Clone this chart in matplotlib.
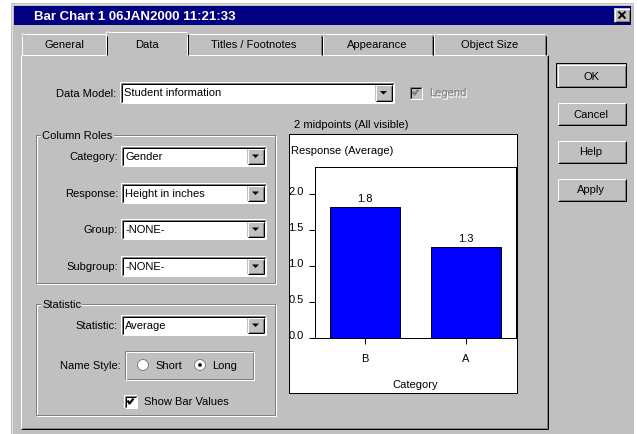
import matplotlib
matplotlib.use('Agg')
import matplotlib.pyplot as plt
from matplotlib.patches import Rectangle, Circle, Polygon

plt.rcParams['font.family'] = ['Liberation Sans', 'DejaVu Sans']

# chart data
categories = ['B', 'A']
values = [1.82, 1.26]
y_ticks = [0.0, 0.5, 1.0, 1.5, 2.0]
y_max = 2.375

# dialog texts
window_title = 'Bar Chart 1 06JAN2000 11:21:33'
tab_names = ['General', 'Data', 'Titles / Footnotes', 'Appearance', 'Object Size']
tab_edges = [21, 107, 186, 322, 433, 546]
button_names = ['OK', 'Cancel', 'Help', 'Apply']
button_tops = [65, 103, 141, 179]
role_labels = ['Category:', 'Response:', 'Group:', 'Subgroup:']
role_values = ['Gender', 'Height in inches', '-NONE-', '-NONE-']
role_rows = [157, 194, 230, 267]

GRAY = '#c0c0c0'
DARK = '#808080'
PX = 0.72  # one pixel in points at 100 dpi
FS = 8

fig = plt.figure(figsize=(6.37, 4.35), dpi=100)
fig.patch.set_facecolor('white')
bg = fig.add_axes([0, 0, 1, 1])
bg.set_xlim(0, 637)
bg.set_ylim(435, 0)
bg.axis('off')


def box(x, y, w, h, fc, ec='none', z=1):
    bg.add_patch(Rectangle((x, y), w, h, facecolor=fc, edgecolor=ec, linewidth=PX, zorder=z))


def line(xs, ys, color, z=3, lw=PX):
    bg.plot([v + 0.5 for v in xs], [v + 0.5 for v in ys], color=color, lw=lw,
            solid_capstyle='butt', zorder=z)


def label(x, y, s, ha='left', color='black', **kw):
    bg.text(x, y, s, fontsize=FS, ha=ha, va='center', color=color, zorder=5, **kw)


def sunken(x, y, w, h, fill='white'):
    box(x, y, w, h, fill)
    line([x, x + w - 1], [y, y], DARK)
    line([x, x], [y, y + h - 1], DARK)
    line([x + 1, x + w - 2], [y + 1, y + 1], 'black')
    line([x + 1, x + 1], [y + 1, y + h - 2], 'black')
    line([x, x + w - 1], [y + h - 1, y + h - 1], 'white')
    line([x + w - 1, x + w - 1], [y, y + h - 1], 'white')


def raised(x, y, w, h, default=False):
    box(x, y, w, h, GRAY)
    line([x, x + w - 1], [y, y], 'white')
    line([x, x], [y, y + h - 1], 'white')
    line([x, x + w - 1], [y + h - 1, y + h - 1], 'black')
    line([x + w - 1, x + w - 1], [y, y + h - 1], 'black')
    line([x + 1, x + w - 2], [y + h - 2, y + h - 2], DARK)
    line([x + w - 2, x + w - 2], [y + 1, y + h - 2], DARK)
    if default:
        box(x - 1, y - 1, w + 1, h + 1, 'none', 'black', z=4)


def combo(x, y, w, h, text):
    sunken(x, y, w, h)
    label(x + 4, y + h / 2, text)
    bx = x + w - 19
    raised(bx, y + 2, 17, h - 4)
    cx, cy = bx + 8.5, y + h / 2
    bg.add_patch(Polygon([(cx - 3.5, cy - 1.5), (cx + 3.5, cy - 1.5), (cx, cy + 2)],
                         closed=True, facecolor='black', edgecolor='none', zorder=4))


def groupbox(x, y, w, h, text):
    box(x + 1, y + 1, w, h, 'none', 'white', z=2)
    box(x, y, w, h, 'none', DARK, z=2)
    bg.text(x + 6, y, text, fontsize=FS, ha='left', va='center', zorder=5,
            bbox=dict(facecolor=GRAY, edgecolor='none', pad=1))


def checkbox(x, y, fill, mark):
    sunken(x, y, 13, 13, fill)
    line([x + 3, x + 5, x + 9], [y + 5, y + 8, y + 3], mark, z=4, lw=1.6)


# dialog body and title bar
box(11, 4, 623, 431, GRAY)
line([11, 633], [4, 4], '#dfdfdf')
line([11, 11], [4, 434], '#dfdfdf')
box(14, 7, 617, 19, '#000080')
bg.text(34, 17, window_title, fontsize=9.5, fontweight='bold', color='white',
        ha='left', va='center', zorder=5)
raised(614, 9, 16, 14)
line([618, 625], [12, 19], 'black', z=5, lw=1.4)
line([618, 625], [19, 12], 'black', z=5, lw=1.4)

# tab panel
line([20, 547], [55, 55], 'white')
line([20, 20], [55, 429], 'white')
line([547, 547], [55, 429], 'black')
line([546, 546], [56, 428], DARK)
line([20, 547], [429, 429], 'black')
line([21, 546], [428, 428], DARK)

for i, name in enumerate(tab_names):
    x0, x1 = tab_edges[i], tab_edges[i + 1]
    top = 34
    if name == 'Data':
        x0, x1, top = x0 - 2, x1 + 2, 32
        box(x0 + 1, top + 1, x1 - x0 - 2, 56 - top, GRAY, z=4)
    line([x0 + 2, x1 - 2], [top, top], 'white', z=5)
    line([x0, x0], [top + 2, 55], 'white', z=5)
    line([x0, x0 + 2], [top + 2, top], 'white', z=5)
    line([x1 - 1, x1 - 1], [top + 2, 55], 'black', z=5)
    line([x1 - 2, x1 - 2], [top + 1, 55], DARK, z=5)
    bg.text((x0 + x1) / 2, 45, name, fontsize=FS, ha='center', va='center', zorder=6)

# buttons
for name, top in zip(button_names, button_tops):
    raised(557, top, 69, 23, default=(name == 'OK'))
    bg.text(591, top + 11.5, name, fontsize=FS, ha='center', va='center', zorder=5)

# data model row
label(116, 94, 'Data Model:', ha='right')
combo(120, 83, 274, 21, 'Student information')
checkbox(409, 87, GRAY, DARK)
label(430, 94.5, 'Legend', color='white')
label(429, 93.5, 'Legend', color=DARK)

# column roles
groupbox(36, 136, 239, 148, 'Column Roles')
for lab, val, yc in zip(role_labels, role_values, role_rows):
    label(118, yc, lab, ha='right')
    combo(121, yc - 10, 145, 20, val)

# statistic
groupbox(36, 305, 239, 111, 'Statistic')
label(118, 326, 'Statistic:', ha='right')
combo(121, 316, 145, 20, 'Average')
label(121, 366, 'Name Style:', ha='right')
box(125, 352, 128, 28, 'none', DARK, z=2)
box(126, 353, 128, 28, 'none', 'white', z=2)
for cx, txt, on in [(143, 'Short', False), (200, 'Long', True)]:
    bg.add_patch(Circle((cx, 366), 5.5, facecolor='white', edgecolor=DARK, lw=PX, zorder=4))
    if on:
        bg.add_patch(Circle((cx, 366), 1.8, facecolor='black', edgecolor='none', zorder=5))
    label(cx + 12, 366, txt)
checkbox(124, 396, 'white', 'black')
label(144, 402.5, 'Show Bar Values')

# chart preview
label(294, 125, '2 midpoints (All visible)')
box(289, 135, 228, 259, 'white', 'black', z=2)
label(291, 151, 'Response (Average)')

ax = fig.add_axes([315 / 637, 1 - 339 / 435, 201 / 637, 171 / 435])
xpos = list(range(len(categories)))
ax.bar(xpos, values, width=0.7, color='#0000ff', edgecolor='black', linewidth=PX, zorder=2)
for xi, v in zip(xpos, values):
    ax.annotate(f'{v:.1f}', (xi, v), xytext=(0, 3), textcoords='offset points',
                ha='center', va='bottom', fontsize=FS)
ax.set_xlim(-0.5, 1.5)
ax.set_ylim(0, y_max)
ax.set_xticks(xpos)
ax.set_xticklabels(categories)
ax.set_yticks(y_ticks)
ax.set_yticklabels([f'{t:.1f}' for t in y_ticks])
ax.tick_params(axis='both', direction='out', length=4, width=PX, labelsize=FS)
ax.tick_params(axis='x', pad=7)
ax.tick_params(axis='y', pad=4)
for t in ax.get_yticklabels():
    t.set_verticalalignment('baseline')
ax.set_xlabel('Category', fontsize=FS, labelpad=11)
for s in ax.spines.values():
    s.set_linewidth(PX)

fig.savefig('out.png', dpi=100)
